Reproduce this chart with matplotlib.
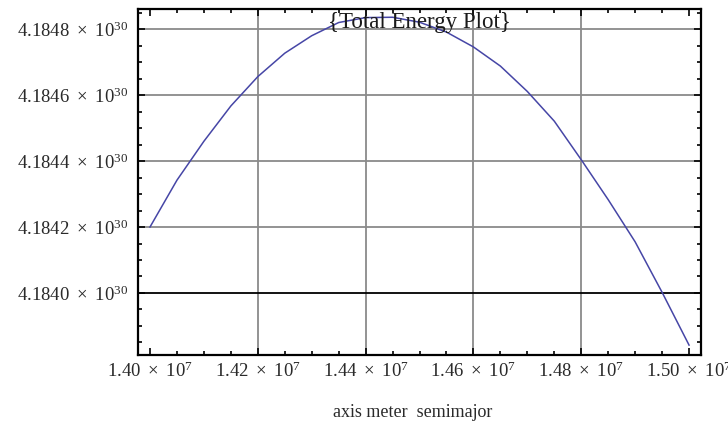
import matplotlib
matplotlib.use("Agg")
import matplotlib.pyplot as plt
from matplotlib.ticker import FixedLocator

plt.rcParams['font.family'] = ['Liberation Serif', 'DejaVu Serif']
plt.rcParams['mathtext.fontset'] = 'custom'
plt.rcParams['mathtext.rm'] = 'Liberation Serif'
plt.rcParams['mathtext.it'] = 'Liberation Serif'

# semimajor axis (units of 1e7 m) and total energy (units of 1e30)
semimajor = [1.400, 1.405, 1.410, 1.415, 1.420, 1.425, 1.430, 1.435, 1.440, 1.445,
             1.450, 1.455, 1.460, 1.465, 1.470, 1.475, 1.480, 1.485, 1.490, 1.495, 1.500]
energy = [4.184200, 4.184342, 4.184460, 4.184567, 4.184656, 4.184727, 4.184780, 4.184820,
          4.184835, 4.184836, 4.184821, 4.184791, 4.184746, 4.184688, 4.184611, 4.184521,
          4.184404, 4.184283, 4.184155, 4.184002, 4.183842]

x_ticks = [1.40, 1.42, 1.44, 1.46, 1.48, 1.50]
y_ticks = [4.1840, 4.1842, 4.1844, 4.1846, 4.1848]
x_grid = [1.42, 1.44, 1.46, 1.48]
y_grid = [4.1842, 4.1844, 4.1846, 4.1848]

fig = plt.figure(figsize=(7.28, 4.23), dpi=100)
ax = fig.add_axes([0.1896, 0.1608, 0.7734, 0.8179])

for gx in x_grid:
    ax.axvline(gx, color='#8a8a8a', lw=1.3, zorder=1)
for gy in y_grid:
    ax.axhline(gy, color='#8a8a8a', lw=1.3, zorder=1)
ax.axhline(y_ticks[0], color='black', lw=1.3, zorder=1)

ax.plot(semimajor, energy, color='#4646a6', lw=1.1, zorder=3)

ax.set_xlim(1.39778, 1.50223)
ax.set_ylim(4.183812, 4.184861)

ax.xaxis.set_major_locator(FixedLocator(x_ticks))
ax.yaxis.set_major_locator(FixedLocator(y_ticks))
ax.xaxis.set_minor_locator(FixedLocator([1.40 + 0.005 * i for i in range(21)]))
ax.yaxis.set_minor_locator(FixedLocator([4.18385 + 0.00005 * i for i in range(21)]))

ax.set_xticklabels([r'$%.2f\ \times\ 10^{7}$' % v for v in x_ticks])
ax.set_yticklabels([r'$%.4f\ \times\ 10^{30}$' % v for v in y_ticks])

ax.tick_params(which='both', direction='in', top=True, right=True,
               labelsize=13.5, labelcolor='#2a2a2a', width=1.2, color='black')
ax.tick_params(which='major', length=5)
ax.tick_params(axis='y', which='major', pad=7)
ax.tick_params(axis='x', which='major', pad=5)
ax.tick_params(which='minor', length=3)
for s in ax.spines.values():
    s.set_linewidth(1.6)

ax.text(0.5, 0.962, '{Total Energy Plot}', transform=ax.transAxes,
        ha='center', va='center', fontsize=16.5, color='#1a1a1a', zorder=4)
ax.set_xlabel('axis meter  semimajor', fontsize=13, color='#2a2a2a')
ax.xaxis.set_label_coords(0.487, -0.143)

fig.savefig('out.png', dpi=100)
